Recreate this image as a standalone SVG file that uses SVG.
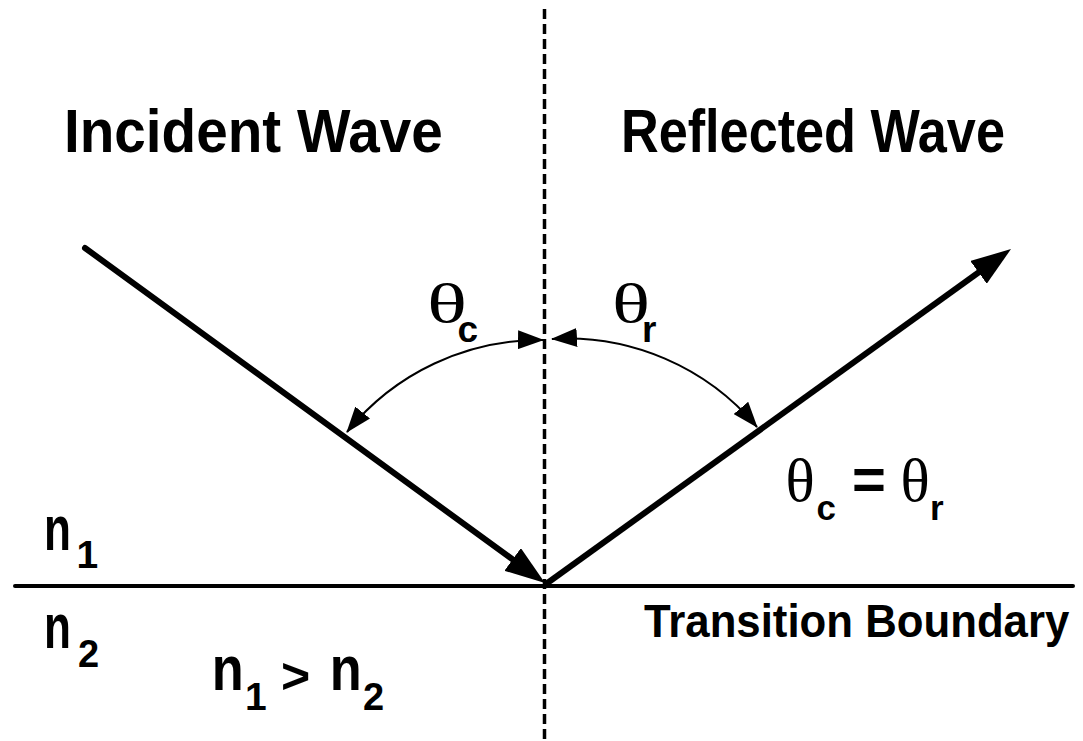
<svg xmlns="http://www.w3.org/2000/svg" width="1083" height="741" viewBox="0 0 1083 741">
<style>
.t{font-family:"Liberation Sans",Arial,sans-serif;font-weight:bold;fill:#000}
.g{font-family:"Liberation Serif","Times New Roman",serif;font-weight:normal;fill:#000}
.ray{stroke:#000;stroke-width:6;fill:none}
.arc{stroke:#000;stroke-width:2;fill:none}
</style>
<defs>
<marker id="big" markerUnits="userSpaceOnUse" viewBox="0 0 40 28" markerWidth="40" markerHeight="28" refX="20" refY="14" orient="auto">
<path d="M0,0 L40,14 L0,28 z" fill="#000"/>
</marker>
<marker id="small" markerUnits="userSpaceOnUse" viewBox="0 0 26 19" markerWidth="26" markerHeight="19" refX="25" refY="9.5" orient="auto-start-reverse">
<path d="M0,0 L26,9.5 L0,19 z" fill="#000"/>
</marker>
</defs>
<rect width="1083" height="741" fill="#fff"/>
<g id="connectors">
<line id="normal" x1="544.5" y1="9" x2="544.5" y2="741" stroke="#000" stroke-width="3.5" stroke-dasharray="10 5"/>
<line id="boundary" x1="15" y1="586" x2="1073" y2="586" stroke="#000" stroke-width="4" stroke-linecap="round"/>
<path id="incident" class="ray" d="M85,248 L528.8,571.2" stroke-linecap="round" marker-end="url(#big)"/>
<path id="reflected" class="ray" d="M546,584 L994.8,260.7" marker-end="url(#big)"/>
<path id="arc-c" class="arc" d="M347,432 A248,248 0 0,1 543,340" marker-start="url(#small)" marker-end="url(#small)"/>
<path id="arc-r" class="arc" d="M552,339 A248,248 0 0,1 757,427" marker-start="url(#small)" marker-end="url(#small)"/>
</g>
<g id="label-incident"><text class="t" transform="translate(64,152) scale(0.929,1)" font-size="61">Incident Wave</text></g>
<g id="label-reflected"><text class="t" transform="translate(621,152) scale(0.856,1)" font-size="61">Reflected Wave</text></g>
<g id="label-boundary"><text class="t" transform="translate(644,637) scale(0.931,1)" font-size="47">Transition Boundary</text></g>
<g id="label-theta-c">
<text class="g" x="427" y="322" font-size="55" textLength="40" lengthAdjust="spacingAndGlyphs">θ</text>
<text class="t" x="457.5" y="342" font-size="37">c</text>
</g>
<g id="label-theta-r">
<text class="g" x="612" y="322" font-size="55" textLength="38" lengthAdjust="spacingAndGlyphs">θ</text>
<text class="t" x="642" y="342" font-size="37">r</text>
</g>
<g id="label-equal">
<text class="g" x="785.5" y="501" font-size="61">θ</text>
<text class="t" x="816.5" y="520" font-size="35">c</text>
<text class="t" x="852" y="499" font-size="58">=</text>
<text class="g" x="900.5" y="501" font-size="61">θ</text>
<text class="t" x="930" y="520" font-size="35">r</text>
</g>
<g id="label-n1">
<text class="t" transform="translate(44,550) scale(0.70,1)" font-size="63">n</text>
<text class="t" x="76.5" y="568" font-size="39">1</text>
</g>
<g id="label-n2">
<text class="t" transform="translate(44,648) scale(0.70,1)" font-size="63">n</text>
<text class="t" x="78" y="667" font-size="38">2</text>
</g>
<g id="label-relation">
<text class="t" transform="translate(211.7,690) scale(0.83,1)" font-size="63">n</text>
<text class="t" x="245" y="710" font-size="39">1</text>
<text class="t" x="281" y="693" font-size="50">&gt;</text>
<text class="t" transform="translate(329.7,690) scale(0.83,1)" font-size="63">n</text>
<text class="t" x="363" y="710" font-size="38">2</text>
</g>
</svg>
